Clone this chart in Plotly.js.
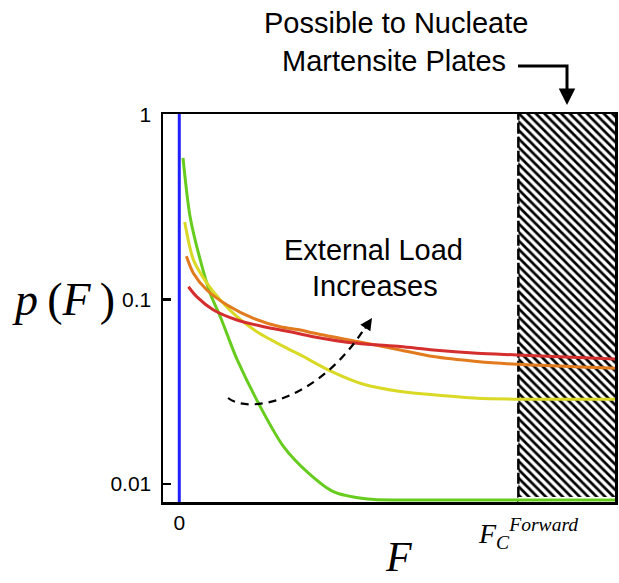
<!DOCTYPE html>
<html>
<head>
<meta charset="utf-8">
<script src="https://cdn.plot.ly/plotly-3.0.1.min.js"></script>
<style>html,body{margin:0;padding:0;background:#fff;}#chart{width:619px;height:583px;}</style>
</head>
<body>
<div id="chart"></div>
<script>
// Driving force F (scaled so that F_C^Forward = 1) and probability p(F)
const F_green  = [0.011, 0.032, 0.062, 0.091, 0.121, 0.155, 0.171, 0.239, 0.307, 0.378, 0.454, 0.555, 0.652, 0.80, 1.0, 1.285];
const p_green  = [0.583, 0.279, 0.163, 0.108, 0.0805, 0.0555, 0.047, 0.0262, 0.016, 0.0116, 0.0091, 0.0083, 0.0082, 0.0082, 0.0082, 0.0082];

const F_yellow = [0.016, 0.042, 0.082, 0.121, 0.170, 0.229, 0.318, 0.357, 0.445, 0.543, 0.652, 0.749, 0.878, 0.996, 1.285];
const p_yellow = [0.262, 0.163, 0.122, 0.0991, 0.0805, 0.0668, 0.0543, 0.050, 0.041, 0.0347, 0.0317, 0.0304, 0.0291, 0.0288, 0.0288];

const F_orange = [0.021, 0.042, 0.082, 0.141, 0.219, 0.298, 0.357, 0.395, 0.524, 0.652, 0.749, 0.878, 0.996, 1.285];
const p_orange = [0.171, 0.138, 0.112, 0.0932, 0.0789, 0.0711, 0.0683, 0.0657, 0.0591, 0.0532, 0.049, 0.0461, 0.0445, 0.0423];

const F_red    = [0.027, 0.052, 0.101, 0.170, 0.249, 0.327, 0.395, 0.524, 0.652, 0.749, 0.878, 0.996, 1.285];
const p_red    = [0.117, 0.103, 0.0875, 0.0773, 0.0711, 0.0668, 0.0628, 0.0578, 0.0555, 0.0532, 0.0511, 0.050, 0.0475];

const F_zero = [0, 0];
const p_zero = [0.005, 1.5];

const F_crit = 1.0;            // F_C^Forward
const F_max  = 1.285;
const hatchF = [F_crit, F_max, F_max, F_crit];
const hatchP = [0.005, 0.005, 1.5, 1.5];

const yTickVals = [0.01, 0.1, 1];
const yTickText = ['0.01', '0.1', '1'];
const xTickVals = [0];
const xTickText = ['0'];

function tail(F, p) { // part of a curve inside the hatched region
  const xs = [], ys = [];
  for (let i = 0; i < F.length; i++) if (F[i] >= F_crit - 1e-9) { xs.push(F[i]); ys.push(p[i]); }
  return {xs, ys};
}

const col = {green:'#66cc1e', yellow:'#d9d926', orange:'#e27a1e', red:'#d42e2e', blue:'#1f1fff'};
const traces = [];

traces.push({x: hatchF, y: hatchP, mode: 'lines', fill: 'toself', fillcolor: 'rgba(0,0,0,0)',
  fillpattern: {shape: '\\', fgcolor: '#000', bgcolor: '#fff', size: 6, solidity: 0.45},
  line: {width: 0}, hoverinfo: 'skip'});
traces.push({x: [F_crit, F_crit], y: [0.005, 1.5], mode: 'lines',
  line: {color: '#000', width: 2.5, dash: '11px,3px'}, hoverinfo: 'skip'});

[[F_yellow, p_yellow, 11], [F_orange, p_orange, 8], [F_red, p_red, 8], [F_green, p_green, 6]].forEach(([F, p, w]) => {
  const t = tail(F, p);
  traces.push({x: t.xs, y: t.ys, mode: 'lines', line: {color: '#fff', width: w}, hoverinfo: 'skip'});
});

traces.push({x: F_zero, y: p_zero, mode: 'lines', line: {color: col.blue, width: 3}});
traces.push({x: F_green, y: p_green, mode: 'lines', line: {color: col.green, width: 3, shape: 'spline', smoothing: 0.8}});
traces.push({x: F_yellow, y: p_yellow, mode: 'lines', line: {color: col.yellow, width: 3, shape: 'spline', smoothing: 0.8}});
traces.push({x: F_orange, y: p_orange, mode: 'lines', line: {color: col.orange, width: 3, shape: 'spline', smoothing: 0.8}});
traces.push({x: F_red, y: p_red, mode: 'lines', line: {color: col.red, width: 3, shape: 'spline', smoothing: 0.8}});

// pixel -> paper helpers for annotations (plot area 163..615 x 114..502)
const L = 163, T = 114, W = 452, H = 388;
const px = v => (v - L) / W;
const py = v => (T + H - v) / H;

const sans = 'Liberation Sans, Arial, sans-serif';
const serif = 'Liberation Serif, Times New Roman, serif';

const annotations = [
  {text: 'Possible to Nucleate', x: px(396), y: py(23)},
  {text: 'Martensite Plates', x: px(394), y: py(61)},
  {text: 'External Load', x: px(373), y: py(250)},
  {text: 'Increases', x: px(375), y: py(286)},
].map(a => Object.assign({xref: 'paper', yref: 'paper', showarrow: false, xanchor: 'center', yanchor: 'middle',
  font: {family: sans, size: 29, color: '#000'}}, a));

annotations.push({xref: 'paper', yref: 'paper', x: px(63), y: py(299), xanchor: 'center', yanchor: 'middle', showarrow: false,
  text: '<i>p</i>\u2009(<i>F</i>\u2009)', font: {family: serif, size: 46, color: '#000'}});
annotations.push({xref: 'paper', yref: 'paper', x: px(398), y: py(557), xanchor: 'center', yanchor: 'middle', showarrow: false,
  text: '<i>F</i>', font: {family: serif, size: 42, color: '#000'}});
annotations.push({xref: 'paper', yref: 'paper', x: px(528), y: py(533), xanchor: 'center', yanchor: 'middle', showarrow: false,
  text: '<i>F</i><sub><i>C</i></sub><sup><i>Forward</i></sup>', font: {family: serif, size: 28, color: '#000'}});
// arrowheads
annotations.push({xref: 'paper', yref: 'paper', x: px(372), y: py(318), ax: -8, ay: 12,
  showarrow: true, arrowhead: 2, arrowsize: 1.2, arrowwidth: 2, arrowcolor: '#000', text: ''});
annotations.push({xref: 'paper', yref: 'paper', x: px(567), y: py(105), ax: 0, ay: -14,
  showarrow: true, arrowhead: 2, arrowsize: 1.1, arrowwidth: 3, arrowcolor: '#000', text: ''});

const shapes = [
  {type: 'path', xref: 'paper', yref: 'paper',
   path: `M ${px(228)} ${py(398)} C ${px(250)} ${py(415)} ${px(320)} ${py(400)} ${px(366)} ${py(326)}`,
   line: {color: '#000', width: 2.2, dash: '8px,6px'}},
  {type: 'path', xref: 'paper', yref: 'paper',
   path: `M ${px(518)} ${py(66)} L ${px(567)} ${py(66)} L ${px(567)} ${py(96)}`,
   line: {color: '#000', width: 3}},
];

const layout = {
  width: 619, height: 583,
  margin: {l: L, r: 619 - L - W, t: T, b: 583 - T - H, pad: 0},
  paper_bgcolor: '#fff', plot_bgcolor: '#fff',
  showlegend: false,
  xaxis: {range: [-0.048, 1.285], showgrid: false, zeroline: false, showline: true, mirror: true,
    linecolor: '#000', linewidth: 2.5, ticks: '', tickvals: xTickVals, ticktext: xTickText,
    tickfont: {family: sans, size: 21, color: '#000'}},
  yaxis: {type: 'log', range: [-2.097, 0.003], showgrid: false, zeroline: false, showline: true, mirror: true,
    linecolor: '#000', linewidth: 2.5, ticks: 'inside', ticklen: 8, tickwidth: 2.5, tickcolor: '#000',
    ticklabelstandoff: 5,
    tickvals: yTickVals, ticktext: yTickText, tickfont: {family: sans, size: 21, color: '#000'}},
  annotations, shapes,
};

Plotly.newPlot('chart', traces, layout, {displayModeBar: false, staticPlot: true});
</script>
</body>
</html>
